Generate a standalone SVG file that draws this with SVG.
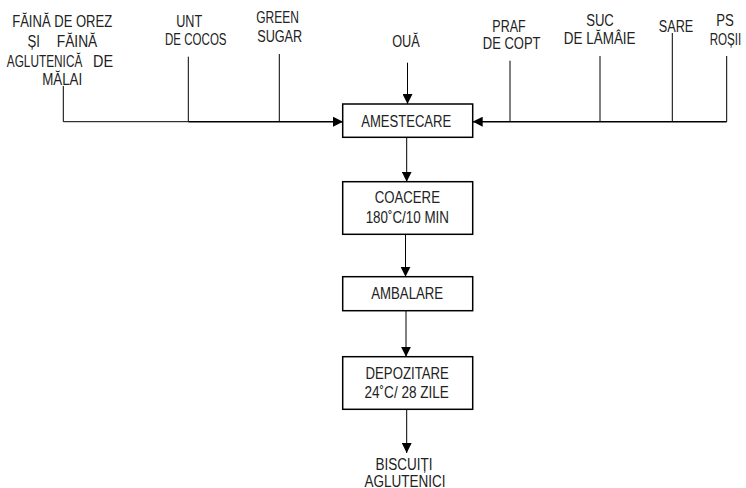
<svg xmlns="http://www.w3.org/2000/svg" width="746" height="488" viewBox="0 0 746 488">
<style>
text{font-family:"Liberation Sans",Arial,sans-serif;font-size:16px;fill:#222;}
.m{text-anchor:middle;}
.box{fill:#fff;stroke:#000;stroke-width:1.5;}
.ln{fill:none;stroke:#000;stroke-width:1;}
.lt{fill:none;stroke:#000;stroke-width:1.6;}
</style>
<defs>
<marker id="ah" viewBox="0 0 10 10" refX="10" refY="5" markerWidth="10" markerHeight="10" markerUnits="userSpaceOnUse" orient="auto">
<path d="M0,0 L10,5 L0,10 z" fill="#000"/>
</marker>
</defs>
<g id="connectors">
<path class="ln" d="M63.3,86 V121.7 H188.3"/>
<path class="lt" d="M188.3,121.7 H343" marker-end="url(#ah)"/>
<path class="ln" d="M188.3,56.7 V121.7"/>
<path class="ln" d="M279.3,54 V121.7"/>
<path class="ln" d="M407.5,62.7 V104" marker-end="url(#ah)"/>
<path class="lt" d="M726.7,121.7 H472.7" marker-end="url(#ah)"/>
<path class="ln" d="M726.7,56 V121.7"/>
<path class="ln" d="M672.3,33 V121.7"/>
<path class="ln" d="M600,56 V121.7"/>
<path class="ln" d="M510,60.7 V121.7"/>
<path class="ln" d="M406.7,137.3 V181.7" marker-end="url(#ah)"/>
<path class="ln" d="M405.5,234.3 V276.7" marker-end="url(#ah)"/>
<path class="ln" d="M406,310.7 V356.7" marker-end="url(#ah)"/>
<path class="ln" d="M406.7,409.3 V453" marker-end="url(#ah)"/>
</g>
<g id="in-faina">
<text x="62.2" y="26.7" class="m" textLength="100" lengthAdjust="spacingAndGlyphs">FĂINĂ DE OREZ</text>
<text x="27.6" y="46.7" textLength="12.4" lengthAdjust="spacingAndGlyphs">ȘI</text>
<text x="56.8" y="46.7" textLength="40.5" lengthAdjust="spacingAndGlyphs">FĂINĂ</text>
<text x="6.8" y="66.7" textLength="75.5" lengthAdjust="spacingAndGlyphs">AGLUTENICĂ</text>
<text x="93" y="66.7" textLength="20" lengthAdjust="spacingAndGlyphs">DE</text>
<text x="62.2" y="85" class="m" textLength="40" lengthAdjust="spacingAndGlyphs">MĂLAI</text>
</g>
<g id="in-unt">
<text x="189.2" y="26.7" class="m" textLength="26" lengthAdjust="spacingAndGlyphs">UNT</text>
<text x="195.8" y="45" class="m" textLength="61.5" lengthAdjust="spacingAndGlyphs">DE COCOS</text>
</g>
<g id="in-sugar">
<text x="277.5" y="23.3" class="m" textLength="42.6" lengthAdjust="spacingAndGlyphs">GREEN</text>
<text x="279.7" y="41.7" class="m" textLength="45" lengthAdjust="spacingAndGlyphs">SUGAR</text>
</g>
<g id="in-oua">
<text x="406" y="46.7" class="m" textLength="27.6" lengthAdjust="spacingAndGlyphs">OUĂ</text>
</g>
<g id="in-praf">
<text x="509" y="31.7" class="m" textLength="33.3" lengthAdjust="spacingAndGlyphs">PRAF</text>
<text x="511.7" y="49.3" class="m" textLength="57.7" lengthAdjust="spacingAndGlyphs">DE COPT</text>
</g>
<g id="in-suc">
<text x="600" y="26" class="m" textLength="27.7" lengthAdjust="spacingAndGlyphs">SUC</text>
<text x="599.7" y="44" class="m" textLength="71.7" lengthAdjust="spacingAndGlyphs">DE LĂMÂIE</text>
</g>
<g id="in-sare">
<text x="676" y="31.7" class="m" textLength="34.4" lengthAdjust="spacingAndGlyphs">SARE</text>
</g>
<g id="in-ps">
<text x="725" y="26" class="m" textLength="17.6" lengthAdjust="spacingAndGlyphs">PS</text>
<text x="725.5" y="45" class="m" textLength="31.7" lengthAdjust="spacingAndGlyphs">ROȘII</text>
</g>
<g id="amestecare">
<rect class="box" x="342.7" y="104" width="130" height="33.3"/>
<text x="406.2" y="126.5" class="m" textLength="90" lengthAdjust="spacingAndGlyphs">AMESTECARE</text>
</g>
<g id="coacere">
<rect class="box" x="342.7" y="181.7" width="130" height="52.6"/>
<text x="407.3" y="203.3" class="m" textLength="65.3" lengthAdjust="spacingAndGlyphs">COACERE</text>
<text x="407.3" y="222.7" class="m" textLength="83.3" lengthAdjust="spacingAndGlyphs">180˚C/10 MIN</text>
</g>
<g id="ambalare">
<rect class="box" x="342.7" y="276.7" width="130" height="34"/>
<text x="407.2" y="299" class="m" textLength="72" lengthAdjust="spacingAndGlyphs">AMBALARE</text>
</g>
<g id="depozitare">
<rect class="box" x="342.7" y="356.7" width="130" height="52.6"/>
<text x="407.2" y="378.5" class="m" textLength="83.3" lengthAdjust="spacingAndGlyphs">DEPOZITARE</text>
<text x="406.7" y="397.5" class="m" textLength="84.3" lengthAdjust="spacingAndGlyphs">24˚C/ 28 ZILE</text>
</g>
<g id="out-biscuiti">
<text x="404" y="470" class="m" textLength="57" lengthAdjust="spacingAndGlyphs">BISCUIȚI</text>
<text x="405" y="486.5" class="m" textLength="81" lengthAdjust="spacingAndGlyphs">AGLUTENICI</text>
</g>
</svg>
